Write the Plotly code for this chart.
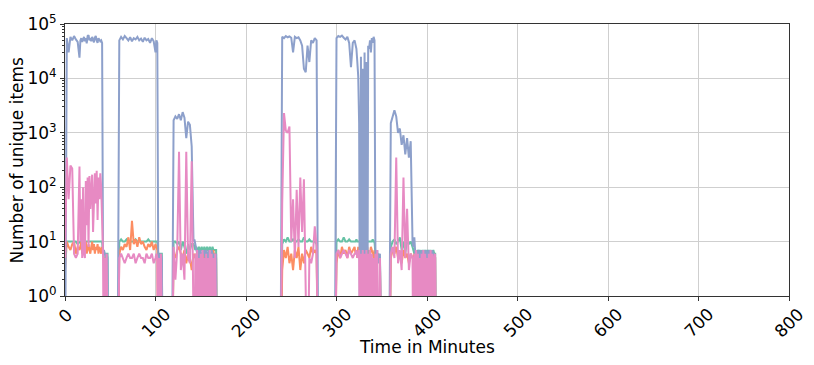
import plotly.graph_objects as go

# ---------------- data (minutes, unique-item counts) ----------------
# sampling times of the six active periods; the counts drop to zero in between
time_A = [0, 2, 4, 6, 8, 10, 12, 14, 16,
          17, 18, 19, 20, 21, 22, 23, 24, 25, 26, 27, 28, 29, 30, 31, 32,
          33, 34, 35, 36, 37, 38, 39, 40, 41, 42, 43, 44, 45, 46, 47, 48]
time_B = [60, 62, 64, 66, 68, 70, 72, 74, 76, 78, 80, 82, 84, 86, 88, 90, 92, 94, 96, 98, 100,
          101, 102, 103, 104, 105, 106, 107, 108]
time_C = [118, 120, 122, 124, 126, 128, 130, 132, 134, 136, 138, 140, 142,
          143, 144, 145, 146, 147, 148, 149, 150, 151, 152, 153, 154, 155, 156, 157, 158, 159, 160,
          161, 162, 163, 164, 165, 166, 167, 168]
time_D = [238, 240, 242, 244, 246, 248, 250, 252, 254, 256, 258, 260, 262, 264, 266, 268, 270, 272, 274, 276, 278, 280]
time_E = [298, 300, 302, 304, 306, 308, 310, 312, 314, 316, 318, 320,
          321, 322, 323, 324, 325, 326, 327, 328, 329, 330, 331, 332, 333, 334, 335, 336, 337, 338, 339, 340,
          341, 342, 343, 344, 345, 346, 348, 350]
time_F = [358, 360, 362, 364, 366, 368, 370, 372, 374, 376, 378, 380, 382, 384,
          385, 386, 387, 388, 389, 390, 391, 392, 393, 394, 395, 396, 397, 398, 399, 400,
          401, 402, 403, 404, 405, 406, 407, 408, 409, 410]
gap_times = [58, 116, 236, 296, 356]

green_A = [10, 10, 10, 10, 10, 10, 10, 9, 10,
           10, 10, 10, 10, 10, 10, 10, 10, 10, 10, 10, 10, 10, 10, 10, 10,
           10, 10, 10, 10, 10, 10, 10, 10, 10, 6, 6, 6, 6, 6, 6, 0]
green_B = [10, 11, 10, 10, 11, 10, 10, 10, 10, 11, 10, 10, 10, 10, 10, 10, 11, 10, 10, 10, 10,
           10, 10, 6, 6, 6, 6, 6, 0]
green_C = [0, 10, 10, 9, 10, 7, 10, 8, 6, 9, 7, 9, 9,
           8, 7, 8, 7, 7, 8, 7, 7, 8, 7, 7, 8, 7, 7, 8, 7, 7, 8, 7, 7, 8, 7, 7, 7, 7, 0]
green_D = [0, 9, 11, 10, 12, 10, 10, 11, 10, 10, 11, 10, 10, 12, 10, 10, 11, 10, 10, 10, 9, 0]
green_E = [0, 10, 11, 10, 10, 12, 10, 10, 11, 10, 10, 10,
           10, 11, 10, 10, 10, 10, 11, 10, 10, 10, 10, 10, 11, 10, 10, 10, 10, 10, 10, 11, 10, 10, 6, 6, 5, 6,
           5, 0]
green_F = [0, 8, 10, 11, 9, 10, 12, 7, 10, 6, 11, 9, 10, 8,
           7, 6, 7, 6, 6, 7, 6, 7, 6, 6, 7, 6, 6, 7, 6, 6, 7, 6, 6, 7, 6, 6, 7, 6, 6, 0]

orange_A = [3, 10, 8, 7, 9, 10, 6, 8, 7,
            9, 10, 6, 8, 9, 7, 10, 6, 8, 9, 7, 6, 8, 10, 7, 9,
            6, 8, 7, 9, 6, 8, 7, 6, 8, 6, 5, 0, 0, 0, 0, 0]
orange_B = [6, 8, 7, 9, 8, 12, 7, 24, 9, 11, 8, 12, 9, 10, 8, 7, 9, 8, 10, 7, 9,
            8, 7, 0, 0, 0, 0, 0, 0]
orange_C = [0, 6, 5, 7, 8, 6, 5, 7, 4, 6, 5, 3, 6,
            5, 6, 4, 6, 5, 7, 5, 6, 4, 6, 5, 6, 5, 7, 4, 6, 5, 6, 4, 6, 5, 7, 5, 6, 5, 0]
orange_D = [0, 3, 7, 5, 8, 4, 6, 3, 7, 5, 8, 3, 6, 4, 7, 6, 5, 8, 6, 7, 6, 0]
orange_E = [0, 4, 7, 5, 8, 6, 7, 5, 8, 6, 7, 8,
            6, 7, 5, 8, 6, 7, 4, 7, 6, 8, 5, 7, 6, 8, 5, 7, 6, 8, 7, 6, 5, 7, 4, 5, 4, 5,
            4, 0]
orange_F = [0, 5, 7, 6, 8, 5, 6, 4, 7, 5, 6, 4, 6, 5,
            5, 6, 4, 5, 6, 4, 5, 6, 5, 4, 6, 5, 4, 6, 5, 4, 6, 5, 5, 4, 6, 5, 4, 5, 5, 0]

blue_A = [0, 55000, 30000, 58000, 50000, 60000, 52000, 47000, 24000,
          50000, 55000, 47000, 52000, 58000, 48000, 55000, 44000, 60000, 62000, 50000, 55000, 48000, 58000, 52000, 46000,
          56000, 60000, 50000, 45000, 55000, 52000, 48000, 50000, 45000, 6, 7, 6, 5, 6, 5, 0]
blue_B = [50000, 58000, 52000, 60000, 55000, 50000, 57000, 48000, 55000, 52000, 58000, 50000, 54000,
          47000, 56000, 50000, 53000, 45000, 55000, 48000, 30000,
          50000, 45000, 5, 6, 5, 6, 5, 0]
blue_C = [0, 1700, 2000, 1800, 2200, 1700, 2400, 1900, 800, 1600, 1400, 560, 10,
          11, 9, 7, 6, 7, 5, 7, 6, 4, 7, 6, 7, 5, 7, 6, 4, 7, 6, 5, 7, 6, 4, 6, 5, 6, 0]
blue_D = [0, 58000, 55000, 60000, 57000, 59000, 56000, 30000, 58000, 55000, 57000, 50000, 40000,
          15000, 13000, 40000, 20000, 50000, 45000, 55000, 50000, 0]
blue_E = [0, 55000, 60000, 58000, 61000, 56000, 52000, 58000, 45000, 16000, 45000, 50000,
          42000, 35000, 20000, 11000, 1500, 0, 25000, 0, 15000, 0, 30000, 0, 20000, 0, 40000, 35000,
          50000, 30000, 55000, 45000, 58000, 50000, 6, 5, 7, 4,
          6, 0]
blue_F = [0, 1500, 2000, 2600, 2000, 1000, 1200, 600, 900, 400, 800, 350, 700, 10,
          8, 12, 6, 7, 5, 6, 7, 4, 6, 7, 5, 7, 6, 4, 7, 6, 5, 7, 6, 4, 6, 7, 5, 6, 5, 0]

pink_A = [5, 350, 60, 250, 220, 6, 5, 6, 240,
          10, 60, 5, 100, 6, 5, 130, 20, 150, 8, 160, 40, 120, 170, 15, 100,
          180, 50, 200, 25, 150, 60, 180, 100, 30, 6, 0, 5, 0, 6, 0, 0]
pink_B = [5, 6, 5, 4, 5, 6, 5, 5, 6, 4, 5, 6, 5, 5, 4, 6, 5, 5, 6, 4, 5,
          6, 5, 0, 5, 0, 6, 0, 0]
pink_C = [0, 8, 2, 7, 450, 3, 6, 2, 450, 5, 4, 300, 3,
          0, 6, 0, 7, 0, 5, 0, 6, 0, 7, 0, 5, 0, 6, 0, 5, 0, 7, 0, 6, 0, 5, 0, 6, 0, 0]
pink_D = [0, 50, 2300, 1100, 1000, 1300, 10, 60, 5, 90, 8, 150, 15, 140, 6, 0, 5, 4, 6, 19, 8, 0]
pink_E = [0, 6, 7, 5, 6, 7, 6, 5, 7, 6, 5, 6,
          6, 7, 5, 6, 7, 0, 6, 0, 7, 0, 6, 0, 7, 0, 6, 0, 7, 0, 6, 0, 5, 0, 6, 0, 7, 0,
          5, 0]
pink_F = [0, 6, 8, 5, 350, 4, 7, 3, 150, 5, 40, 3, 6, 5,
          0, 6, 0, 7, 0, 6, 0, 5, 0, 6, 0, 7, 0, 6, 0, 5, 0, 6, 0, 7, 0, 6, 0, 5, 6, 0]

x_ticks = [0, 100, 200, 300, 400, 500, 600, 700, 800]
y_ticks = [1, 10, 100, 1000, 10000, 100000]
y_exponents = [0, 1, 2, 3, 4, 5]

series_colors = {"green": "#66c2a5", "orange": "#fc8d62", "blue": "#8da0cb", "pink": "#e78ac3"}

segments_t = [time_A, time_B, time_C, time_D, time_E, time_F]


def assemble(segments):
    """Join the active periods, inserting a zero-count sample inside each gap."""
    out = list(segments[0])
    for seg in segments[1:]:
        out += [0] + list(seg)
    return out


time = list(segments_t[0])
for gap_t, seg in zip(gap_times, segments_t[1:]):
    time += [gap_t] + list(seg)

series = {
    "green": assemble([green_A, green_B, green_C, green_D, green_E, green_F]),
    "orange": assemble([orange_A, orange_B, orange_C, orange_D, orange_E, orange_F]),
    "blue": assemble([blue_A, blue_B, blue_C, blue_D, blue_E, blue_F]),
    "pink": assemble([pink_A, pink_B, pink_C, pink_D, pink_E, pink_F]),
}

FLOOR = 0.01  # zero counts fall below the 10^0 floor of the log axis (clipped at the bottom)

fig = go.Figure()
for name, vals in series.items():
    fig.add_trace(go.Scatter(
        x=time, y=[v if v > 0 else FLOOR for v in vals], mode="lines", name=name,
        line=dict(color=series_colors[name], width=2), hoverinfo="skip",
    ))

FONT = "DejaVu Sans"
AX = "#333333"
GRID = "#cfcfcf"

fig.update_layout(
    width=814, height=365,
    margin=dict(l=65, r=25, t=13, b=69),
    plot_bgcolor="white", paper_bgcolor="white",
    showlegend=False,
    font=dict(family=FONT, size=17, color="black"),
)
fig.update_xaxes(
    range=[0, 800], tickmode="array", tickvals=x_ticks, showticklabels=False,
    showgrid=True, gridcolor=GRID, gridwidth=1, zeroline=False,
    showline=True, mirror=True, linecolor=AX, linewidth=1,
    ticks="outside", ticklen=4, tickwidth=1, tickcolor=AX,
)
fig.update_yaxes(
    type="log", range=[0, 5], tickmode="array", tickvals=y_ticks,
    ticktext=[f"10<sup>{e}</sup>" for e in y_exponents],
    showgrid=True, gridcolor=GRID, gridwidth=1, zeroline=False,
    showline=True, mirror=True, linecolor=AX, linewidth=1,
    ticks="outside", ticklen=4, tickwidth=1, tickcolor=AX,
    tickfont=dict(family=FONT, size=17, color="black"),
    minor=dict(ticks="outside", ticklen=2, tickcolor=AX, dtick="D1", showgrid=False),
)

annotations = []
for v in x_ticks:
    annotations.append(dict(
        x=v, xref="x", y=0, yref="paper", yanchor="top", xanchor="center", yshift=-6,
        text=str(v), textangle=-45, showarrow=False,
        font=dict(family=FONT, size=17, color="black"),
    ))
annotations.append(dict(
    x=0.5, xref="paper", y=0, yref="paper", yanchor="middle", xanchor="center", yshift=-51,
    text="Time in Minutes", showarrow=False, font=dict(family=FONT, size=17, color="black"),
))
annotations.append(dict(
    x=0, xref="paper", y=0.5, yref="paper", yanchor="middle", xanchor="center", xshift=-48.5,
    text="Number of unique items", textangle=-90, showarrow=False,
    font=dict(family=FONT, size=17, color="black"),
))
fig.update_layout(annotations=annotations)

fig.write_html("out.html")
